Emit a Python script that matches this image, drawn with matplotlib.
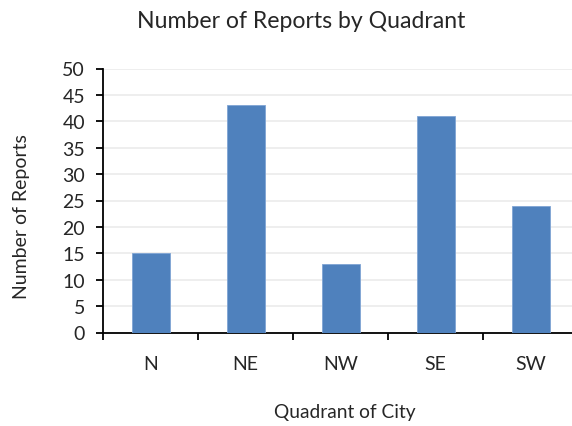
import matplotlib.pyplot as plt
import numpy as np

plt.rcParams['font.family'] = ['Lato', 'DejaVu Sans']

quadrants = ["N", "NE", "NW", "SE", "SW"]
reports = [15, 43, 13, 41, 24]

BAR = "#4F81BD"
TEXT = "#262626"
W, H = 572, 427

fig = plt.figure(figsize=(W / 100, H / 100), dpi=100)
ax = fig.add_axes([103 / W, 93.5 / H, 475 / W, 264 / H])

x = np.arange(len(quadrants))
ax.bar(x, reports, width=0.4, color=BAR, edgecolor="#7FA4D4", linewidth=0.6, zorder=3)

ax.set_xlim(-0.5, len(quadrants) - 0.5)
ax.set_ylim(0, 50)
ax.set_yticks(range(0, 51, 5))
ax.grid(axis="y", color="#EBEBEB", linewidth=1.2, zorder=0)

ax.set_xticks(x)
ax.set_xticklabels(quadrants)
ax.set_xticks(np.arange(-0.5, len(quadrants)), minor=True)
ax.tick_params(axis="x", which="major", length=0, pad=16, labelsize=14, labelcolor=TEXT)
ax.tick_params(axis="x", which="minor", length=5, width=1.3, direction="out")
ax.tick_params(axis="y", length=5, width=1.3, direction="out", pad=8, labelsize=14, labelcolor=TEXT)

for side in ("top", "right"):
    ax.spines[side].set_visible(False)
for side in ("left", "bottom"):
    ax.spines[side].set_linewidth(1.3)

fig.text(301.5 / W, 1 - 21 / H, "Number of Reports by Quadrant", fontsize=16.6,
         color=TEXT, ha="center", va="center")
fig.text(345 / W, 1 - 413 / H, "Quadrant of City", fontsize=13.8,
         color=TEXT, ha="center", va="center")
fig.text(22 / W, 1 - 217 / H, "Number of Reports", fontsize=14, rotation=90,
         color=TEXT, ha="center", va="center")

fig.savefig("out.png", dpi=100)
